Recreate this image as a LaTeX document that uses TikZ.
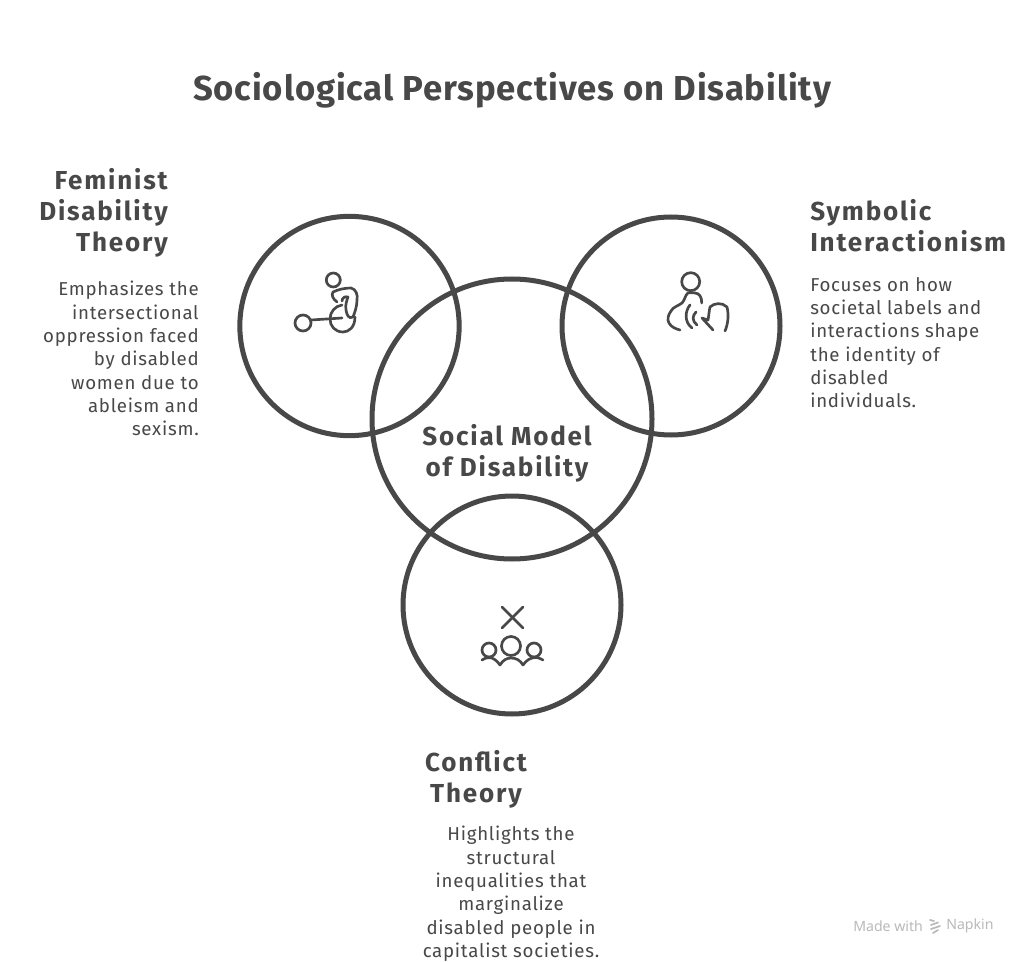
\documentclass[tikz,border=0pt]{standalone}
\usepackage{fontspec}
\setmainfont{Fira Sans}
\newfontfamily\markfont{Noto Sans}
\newfontfamily\ttlfont[LetterSpace=2.5]{Fira Sans}
\newfontfamily\headfont[LetterSpace=7]{Fira Sans}
\newfontfamily\bodyfont[LetterSpace=4]{Fira Sans}
\definecolor{ink}{HTML}{484848}
\definecolor{wm}{HTML}{B9B9B9}
\tikzset{
  ring/.style={circle,draw=ink,line width=3.75pt,inner sep=0pt,fill=none},
  ttl/.style={text=ink,font=\ttlfont\fontsize{26}{28}\selectfont\bfseries,inner sep=0pt},
  head/.style={text=ink,font=\headfont\fontsize{19.5}{23.3}\selectfont\bfseries,inner sep=0pt},
  body/.style={text=ink,font=\bodyfont\fontsize{14}{17.5}\selectfont,inner sep=0pt},
  glyph/.style={draw=ink,line width=2pt,line cap=round,line join=round,fill=none},
  logo/.style={draw=wm,line width=1.3pt,line cap=round}
}
\begin{document}
\begin{tikzpicture}[x=0.75pt,y=-0.75pt]
\useasboundingbox (0,0) rectangle (1024,962);
\fill[white] (0,0) rectangle (1024,962);
\node[ttl] (title) at (512,90) {Sociological Perspectives on Disability};

\node[ring,minimum size=164.5pt] (fem) at (349.5,326) {};
\node[ring,minimum size=163.5pt] (sym) at (671,326) {};
\node[ring,minimum size=210pt] (soc) at (512,419) {};
\node[ring,minimum size=163.5pt] (con) at (512,605) {};

\node[head,align=center] (soclabel) at (507,453) {Social Model\\of Disability};

\node[head,align=right,anchor=north east] (femhead) at (168,168) {Feminist\\Disability\\Theory};
\node[body,align=right,anchor=north east] (fembody) at (199,281) {Emphasizes the\\intersectional\\oppression faced\\by disabled\\women due to\\ableism and\\sexism.};

\node[head,align=left,anchor=north west] (symhead) at (810,199) {Symbolic\\Interactionism};
\node[body,align=left,anchor=north west] (symbody) at (810,277) {Focuses on how\\societal labels and\\interactions shape\\the identity of\\disabled\\individuals.};

\node[head,align=center,anchor=north] (conhead) at (476,750) {Conflict\\Theory};
\node[body,align=center,anchor=north] (conbody) at (511,826) {Highlights the\\structural\\inequalities that\\marginalize\\disabled people in\\capitalist societies.};

% wheelchair icon
\draw[glyph] (333.3,280) circle (7);
\draw[glyph] (303,323) circle (8);
\draw[glyph] (311,320) -- (342,318);
\draw[glyph] (355,317) .. controls (355,327) and (349,332) .. (343,332) .. controls (335,332) and (330,326) .. (330,319) .. controls (330,312) and (335,306) .. (342,305);
\draw[glyph] (337,302) .. controls (333,299) and (331,295) .. (333,292) .. controls (339,289) and (346,288) .. (351,288) .. controls (356,289) and (358,295) .. (357,300) .. controls (357,306) and (355,312) .. (353,317) .. controls (349,319) and (347,316) .. (346,310) .. controls (345,305) and (347,300) .. (348,297) .. controls (345,296) and (342,298) .. (342,301);

% person / gesture icon
\draw[glyph] (690.7,281.7) circle (9);
\draw[glyph] (701.7,303) .. controls (702,297) and (699,293) .. (695,293) .. controls (692,293) and (689,292) .. (688,293) .. controls (685,295) and (685,300) .. (682,303) .. controls (678,306) and (673,307) .. (671,311) .. controls (668,315) and (667,320) .. (669,323) .. controls (671,327) and (676,329) .. (680,330);
\draw[glyph] (690,305) .. controls (685,311) and (684,322) .. (692,328);
\draw[glyph] (696,312) .. controls (692,316) and (692,321) .. (697,325);
\draw[glyph] (713,330) -- (702,318) -- (708,320) .. controls (709,315) and (709,311) .. (710,307) .. controls (714,303) and (722,302) .. (727,307) .. controls (729,315) and (728,324) .. (725,331);

% conflict icon
\draw[glyph] (502,607) -- (523,628);
\draw[glyph] (523,607) -- (502,628);
\draw[glyph] (511,646) circle (9.5);
\draw[glyph] (489,650) circle (7);
\draw[glyph] (534,650) circle (7);
\draw[glyph] (482,660) .. controls (486,657) and (493,655) .. (500,665) .. controls (503,660) and (507,658) .. (511,658) .. controls (516,658) and (520,660) .. (523,665) .. controls (530,655) and (539,657) .. (543,660);

% watermark
\node[text=wm,font=\markfont\fontsize{10.6}{12}\selectfont,inner sep=0pt,anchor=west] (made) at (853,926) {Made with};
\node[text=wm,font=\markfont\fontsize{10.6}{12}\selectfont,inner sep=0pt,anchor=west] (nap) at (946,926) {Napkin};
\draw[logo] (930,920) -- (934,921);
\draw[logo] (931,925) -- (938,922.5);
\draw[logo] (931,929) -- (940,926);
\draw[logo] (933,933) -- (938,930);
\end{tikzpicture}
\end{document}
